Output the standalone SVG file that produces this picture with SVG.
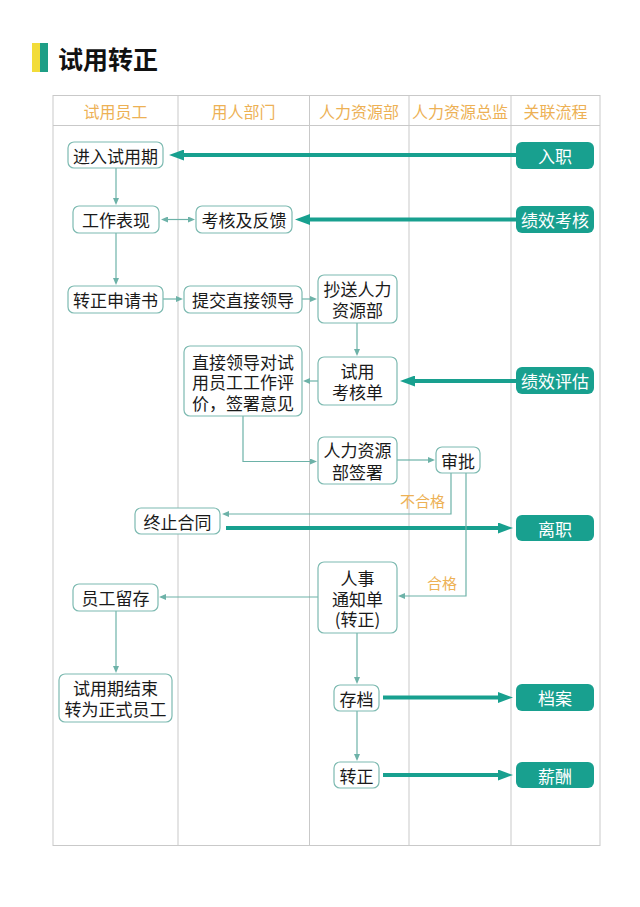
<svg xmlns="http://www.w3.org/2000/svg" width="640" height="907" viewBox="0 0 640 907">
<style>
.grid{stroke:#C9C9C9;stroke-width:1;fill:none}
.hdr{font-family:"Noto Sans CJK SC",sans-serif;font-size:16px;fill:#EDB155;text-anchor:middle;dominant-baseline:central}
.box{fill:#FFFFFF;stroke:#7DBAB1;stroke-width:1.2}
.rel{fill:#18A08F;stroke:none}
.t{font-family:"Noto Sans CJK SC",sans-serif;font-size:17px;fill:#1A1A1A;text-anchor:middle;dominant-baseline:central}
.tw{font-family:"Noto Sans CJK SC",sans-serif;font-size:17px;fill:#FFFFFF;text-anchor:middle;dominant-baseline:central}
.lbl{font-family:"Noto Sans CJK SC",sans-serif;font-size:15px;fill:#EDB155;text-anchor:end;dominant-baseline:central}
.thick{stroke:#18A08F;stroke-width:4;fill:none;marker-end:url(#ah)}
.thin{stroke:#6DB2A8;stroke-width:1.2;fill:none;marker-end:url(#as)}
</style>
<defs>
<marker id="ah" markerUnits="userSpaceOnUse" markerWidth="15" markerHeight="11" refX="0" refY="5.5" orient="auto"><path d="M0,0 L15,5.5 L0,11 z" fill="#18A08F"/></marker>
<marker id="as" markerUnits="userSpaceOnUse" markerWidth="7" markerHeight="6" refX="0" refY="3" orient="auto-start-reverse"><path d="M0,0 L7,3 L0,6 z" fill="#6DB2A8"/></marker>
</defs>
<rect x="0" y="0" width="640" height="907" fill="#FFFFFF"/>
<g id="title">
<rect x="32" y="43" width="8" height="29" fill="#F2DC3A"/>
<rect x="40" y="43" width="8" height="29" fill="#1E9E86"/>
<text x="58" y="58" font-family="'Noto Sans CJK SC',sans-serif" font-size="25" font-weight="bold" fill="#111111" dominant-baseline="central">试用转正</text>
</g>
<g id="table">
<rect class="grid" x="53" y="95.5" width="547" height="750"/>
<line class="grid" x1="53" y1="125.5" x2="600" y2="125.5"/>
<line class="grid" x1="178" y1="95.5" x2="178" y2="845.5"/>
<line class="grid" x1="309.5" y1="95.5" x2="309.5" y2="845.5"/>
<line class="grid" x1="409" y1="95.5" x2="409" y2="845.5"/>
<line class="grid" x1="511" y1="95.5" x2="511" y2="845.5"/>
<text class="hdr" x="115.5" y="111">试用员工</text>
<text class="hdr" x="243.5" y="111">用人部门</text>
<text class="hdr" x="359" y="111">人力资源部</text>
<text class="hdr" x="460" y="111">人力资源总监</text>
<text class="hdr" x="555.5" y="111">关联流程</text>
</g>
<g id="connectors">
<path class="thick" d="M516,155 H184"/>
<path class="thick" d="M516,219.5 H310"/>
<path class="thick" d="M516,381 H415"/>
<path class="thick" d="M226,528 H498"/>
<path class="thick" d="M383,697.5 H498"/>
<path class="thick" d="M383,775 H498"/>
<path class="thin" d="M116,168 V198"/>
<path class="thin" d="M168,219.5 H188" marker-start="url(#as)"/>
<path class="thin" d="M116,233 V278"/>
<path class="thin" d="M163,299 H176"/>
<path class="thin" d="M302,299 H310"/>
<path class="thin" d="M357,323 V349"/>
<path class="thin" d="M318,381 H310"/>
<path class="thin" d="M243,416 V461.5 H310"/>
<path class="thin" d="M397,460 H428"/>
<path class="thin" d="M451,473 V514 H229"/>
<path class="thin" d="M466,473 V596 H405"/>
<path class="thin" d="M318,597 H166"/>
<path class="thin" d="M116,611 V666"/>
<path class="thin" d="M357,633 V677"/>
<path class="thin" d="M357,711 V754"/>
<text class="lbl" x="445" y="500">不合格</text>
<text class="lbl" x="457" y="582">合格</text>
</g>
<g id="n-jinru"><rect class="box" x="68" y="142" width="95" height="26" rx="6"/><text class="t" x="115.5" y="155">进入试用期</text></g>
<g id="n-gongzuo"><rect class="box" x="73" y="206" width="86" height="27" rx="6"/><text class="t" x="116" y="219.5">工作表现</text></g>
<g id="n-kaohe"><rect class="box" x="196" y="206" width="96" height="27" rx="6"/><text class="t" x="244" y="219.5">考核及反馈</text></g>
<g id="n-zhuanzheng-sq"><rect class="box" x="68" y="286" width="95" height="27" rx="6"/><text class="t" x="115.5" y="299.5">转正申请书</text></g>
<g id="n-tijiao"><rect class="box" x="184" y="286" width="118" height="27" rx="6"/><text class="t" x="243" y="299.5">提交直接领导</text></g>
<g id="n-chaosong"><rect class="box" x="318" y="275" width="79" height="48" rx="6"/><text class="t" x="357.5" y="288.5">抄送人力</text><text class="t" x="357.5" y="309.5">资源部</text></g>
<g id="n-pingjia"><rect class="box" x="184" y="346" width="118" height="70" rx="6"/><text class="t" x="243" y="361">直接领导对试</text><text class="t" x="243" y="381.5">用员工工作评</text><text class="t" x="243" y="402">价，签署意见</text></g>
<g id="n-kaohedan"><rect class="box" x="318" y="357" width="79" height="48" rx="6"/><text class="t" x="357.5" y="370">试用</text><text class="t" x="357.5" y="391.5">考核单</text></g>
<g id="n-qianshu"><rect class="box" x="318" y="437" width="79" height="47" rx="6"/><text class="t" x="357.5" y="449.5">人力资源</text><text class="t" x="357.5" y="471">部签署</text></g>
<g id="n-shenpi"><rect class="box" x="436" y="447" width="44" height="26" rx="6"/><text class="t" x="458" y="460">审批</text></g>
<g id="n-zhongzhi"><rect class="box" x="135" y="508" width="85" height="26" rx="6"/><text class="t" x="177.5" y="521">终止合同</text></g>
<g id="n-liucun"><rect class="box" x="73" y="584" width="85" height="27" rx="6"/><text class="t" x="115.5" y="597.5">员工留存</text></g>
<g id="n-tongzhi"><rect class="box" x="318" y="562" width="79" height="71" rx="6"/><text class="t" x="357.5" y="577">人事</text><text class="t" x="357.5" y="598">通知单</text><text class="t" x="357.5" y="618.5">(转正)</text></g>
<g id="n-jieshu"><rect class="box" x="59" y="674" width="113" height="48" rx="6"/><text class="t" x="115.5" y="687.5">试用期结束</text><text class="t" x="115.5" y="708.5">转为正式员工</text></g>
<g id="n-cundang"><rect class="box" x="334" y="685" width="45" height="26" rx="6"/><text class="t" x="356.5" y="698">存档</text></g>
<g id="n-zhuanzheng"><rect class="box" x="334" y="762" width="45" height="26" rx="6"/><text class="t" x="356.5" y="775">转正</text></g>
<g id="r-ruzhi"><rect class="rel" x="516" y="142" width="78" height="27" rx="6"/><text class="tw" x="555" y="155.5">入职</text></g>
<g id="r-jixiaokaohe"><rect class="rel" x="516" y="206" width="78" height="27" rx="6"/><text class="tw" x="555" y="219.5">绩效考核</text></g>
<g id="r-jixiaopinggu"><rect class="rel" x="516" y="367" width="78" height="27" rx="6"/><text class="tw" x="555" y="380.5">绩效评估</text></g>
<g id="r-lizhi"><rect class="rel" x="516" y="515" width="78" height="26" rx="6"/><text class="tw" x="555" y="528">离职</text></g>
<g id="r-dangan"><rect class="rel" x="516" y="684" width="78" height="27" rx="6"/><text class="tw" x="555" y="697.5">档案</text></g>
<g id="r-xinchou"><rect class="rel" x="516" y="762" width="78" height="26" rx="6"/><text class="tw" x="555" y="775">薪酬</text></g>
</svg>
